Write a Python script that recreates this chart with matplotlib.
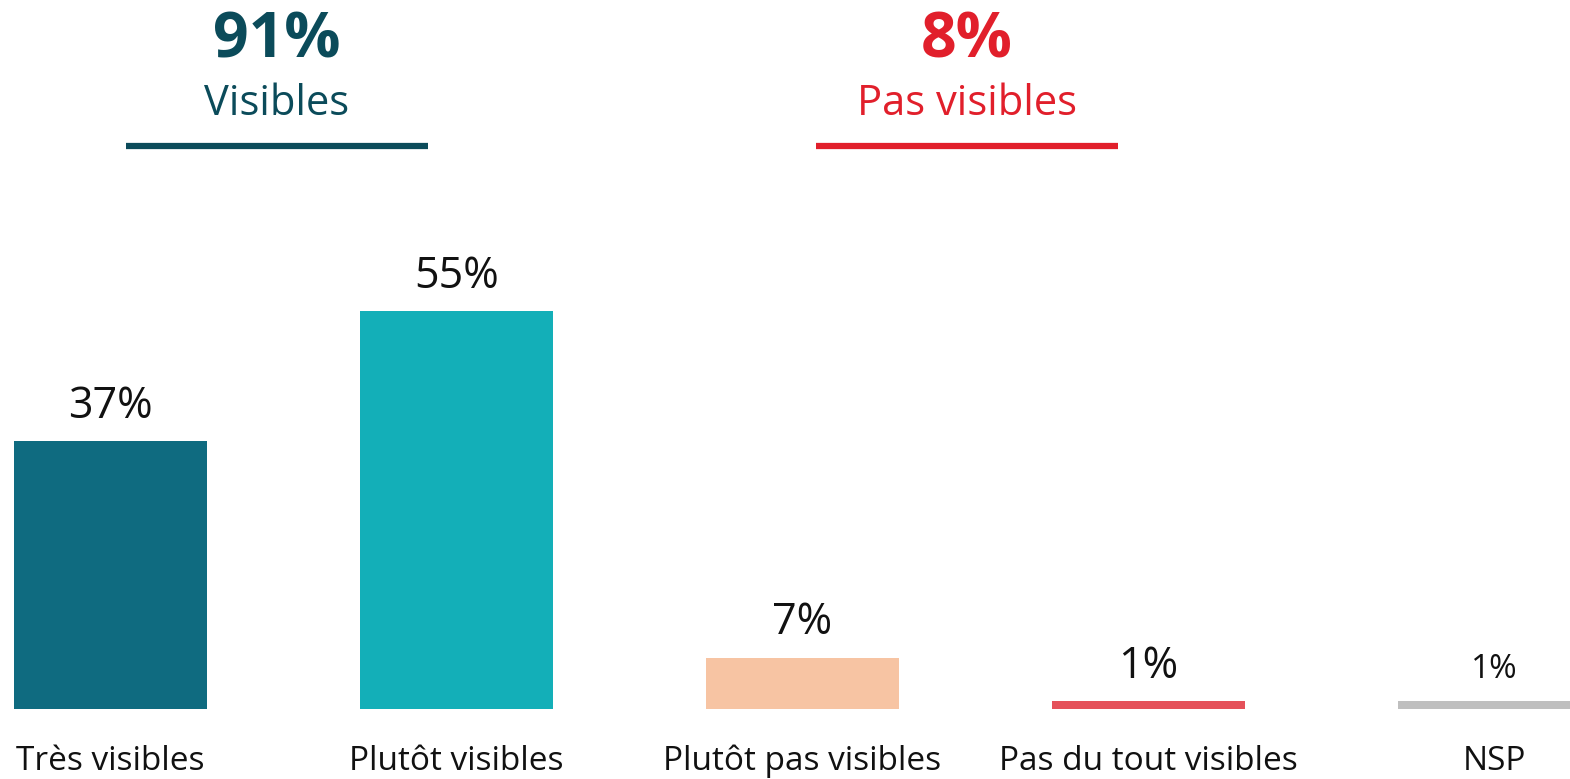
import matplotlib
matplotlib.use("Agg")
import matplotlib.pyplot as plt
from matplotlib.lines import Line2D
from matplotlib.transforms import blended_transform_factory

plt.rcParams['font.family'] = ['Open Sans', 'DejaVu Sans']

# ---- data ----
categories = ["Très visibles", "Plutôt visibles", "Plutôt pas visibles",
              "Pas du tout visibles", "NSP"]
values = [37, 55, 7, 1, 1]
value_labels = ["37%", "55%", "7%", "1%", "1%"]
bar_colors = ["#0f6b80", "#13afb8", "#f7c4a3", "#e5515a", "#bfbfbf"]

group_totals = ["91%", "8%"]
group_names = ["Visibles", "Pas visibles"]
group_colors = ["#0b4b5a", "#e11f2b"]
group_line_colors = ["#0b4b5a", "#e11f2b"]

# ---- figure ----
W, H, DPI = 1570, 779, 100
fig = plt.figure(figsize=(W / DPI, H / DPI), dpi=DPI)
bottom_px = 708.5
ax = fig.add_axes([0, (H - bottom_px) / H, 1, bottom_px / H])
px_per_unit = 7.22
ax.set_ylim(0, bottom_px / px_per_unit)
spacing = 346.0
first_center = 110.5
ax.set_xlim(-first_center / spacing, (W - first_center) / spacing)

x = list(range(len(categories)))
bars = ax.bar(x, values, width=193 / spacing, color=bar_colors, linewidth=0)
ax.axis("off")

for i, (xi, v, lab) in enumerate(zip(x, values, value_labels)):
    size = 24 if categories[i] == "NSP" else 31
    ax.annotate(lab, (xi, v), xytext=(0, 17), textcoords="offset points",
                ha="center", va="baseline", fontsize=size, color="#111111")

# category labels below bars
trans = blended_transform_factory(ax.transData, fig.transFigure)
for xi, cat in zip(x, categories):
    ax.text(xi, (H - 770) / H, cat, transform=trans, ha="center",
            va="baseline", fontsize=24, color="#111111", clip_on=False)

# group headers
header_centers_px = [276.5, 967.0]
line_half_px = 151.0
for cx, tot, name, col, lcol in zip(header_centers_px, group_totals,
                                    group_names, group_colors,
                                    group_line_colors):
    fig.text(cx / W, (H - 57) / H, tot, ha="center", va="baseline",
             fontsize=45, fontweight="bold", color=col)
    fig.text(cx / W, (H - 115) / H, name, ha="center", va="baseline",
             fontsize=30, color=col)
    fig.add_artist(Line2D([(cx - line_half_px) / W, (cx + line_half_px) / W],
                          [(H - 146) / H, (H - 146) / H],
                          transform=fig.transFigure, color=lcol,
                          linewidth=4.5, solid_capstyle="butt"))

fig.savefig("out.png", dpi=DPI)
